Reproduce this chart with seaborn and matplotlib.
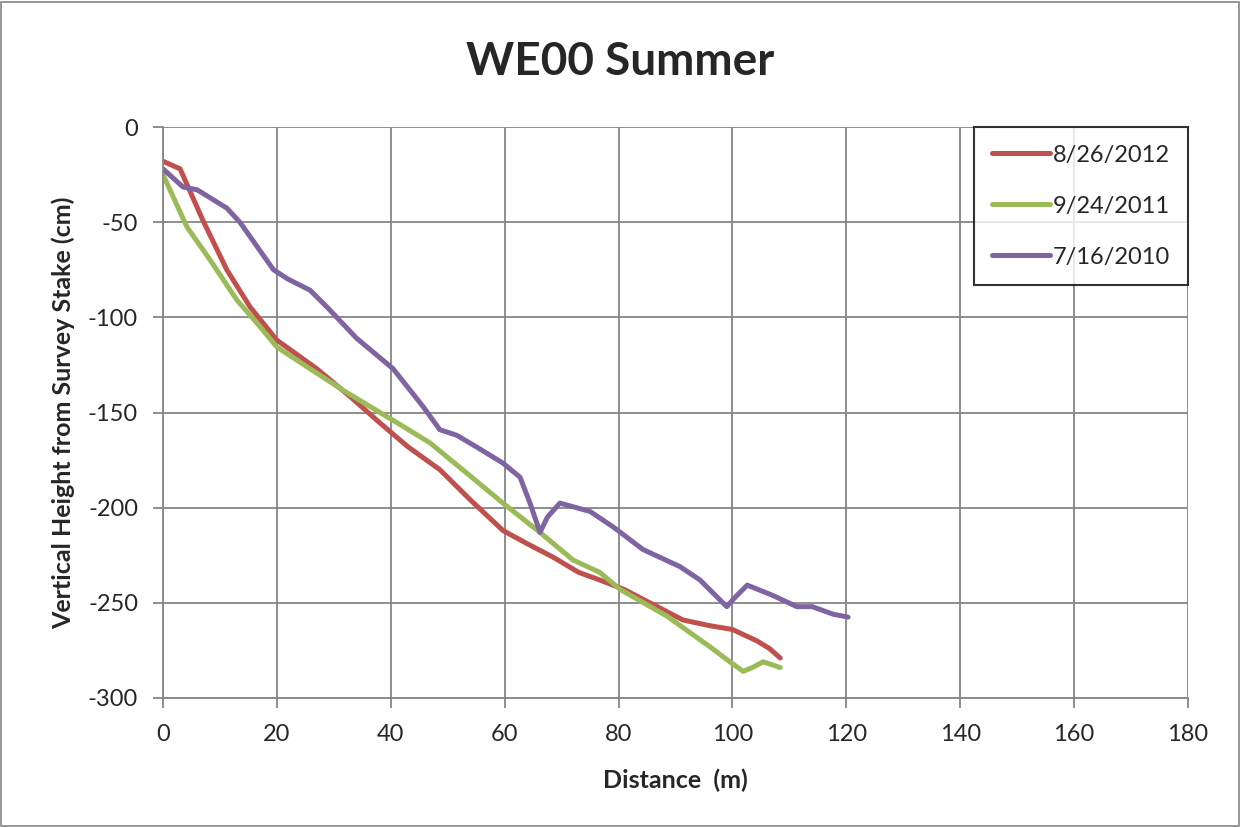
import numpy as np
import pandas as pd
import seaborn as sns
import matplotlib.pyplot as plt
from matplotlib.patches import Rectangle

# data
x_2012 = [0, 3, 7, 11.2, 15.3, 20, 27, 33, 38.1, 43, 48.6, 54, 59.7, 64, 68.5, 73, 76.7,
          81, 85.5, 91.3, 96, 100, 104.3, 106.5, 108.4]
y_2012 = [-18, -22, -49, -75, -94.6, -112, -127, -142, -155.5, -168, -180, -196, -212, -219,
          -226, -234, -238, -243, -250, -259, -262, -264, -270, -274, -279]

x_2011 = [0, 4.2, 8.3, 13, 16.5, 20, 25.8, 32, 38.1, 42, 46.9, 53, 59.7, 66.2, 72, 76.7,
          80.3, 88.5, 96, 100, 101.9, 103.5, 105.4, 108.4]
y_2011 = [-25, -52.5, -70, -91, -103, -115.6, -127, -139, -150, -157, -166, -181, -197.6,
          -213, -227.5, -234, -243, -257, -273, -282, -286, -284, -281, -284]

x_2010 = [0, 3.5, 6, 11.2, 13.5, 19.4, 22, 25.8, 28.8, 34, 40.4, 45.7, 48.6, 51.6, 55,
          59.7, 62.7, 64.5, 66.2, 67.5, 69.7, 75, 79, 84.3, 90.8, 94.3, 99, 100.5, 102.6,
          107, 111.3, 114, 117.7, 120.3]
y_2010 = [-22, -31.5, -33, -42.6, -50, -75, -80, -85.7, -94.6, -111, -127, -147, -159,
          -162, -168, -176.6, -184, -198, -213, -205, -197.6, -202, -210, -222, -231, -238,
          -252, -247, -240.7, -246, -252, -252, -256, -257.5]

labels = ['8/26/2012', '9/24/2011', '7/16/2010']
colors = ['#C0504D', '#9BBB59', '#8064A2']

frames = []
for lab, xs, ys in zip(labels, [x_2012, x_2011, x_2010], [y_2012, y_2011, y_2010]):
    frames.append(pd.DataFrame({'Distance': xs, 'Height': ys, 'Date': lab}))
df = pd.concat(frames, ignore_index=True)

sns.set_style('white')
plt.rcParams['font.family'] = ['Lato', 'DejaVu Sans']
plt.rcParams['axes.unicode_minus'] = False

fig = plt.figure(figsize=(12.41, 8.27), dpi=100)
ax = fig.add_axes([163 / 1241, 1 - 698 / 827, (1188 - 163) / 1241, (698 - 127) / 827])

sns.lineplot(data=df, x='Distance', y='Height', hue='Date', hue_order=labels,
             palette=colors, sort=False, estimator=None, linewidth=3.6, ax=ax)
for ln in ax.get_lines():
    ln.set_solid_joinstyle('round')
    ln.set_solid_capstyle('round')

ax.set_xlim(0, 180)
ax.set_ylim(-300, 0)
ax.set_xticks(np.arange(0, 181, 20))
ax.set_yticks(np.arange(-300, 1, 50))
ax.grid(True, color='#868686', linewidth=1.3)
ax.set_axisbelow(True)
for pos in ['top', 'right']:
    ax.spines[pos].set_visible(False)
for pos in ['left', 'bottom']:
    ax.spines[pos].set_color('#868686')
    ax.spines[pos].set_linewidth(1.3)
ax.tick_params(axis='both', labelsize=17, length=7, width=1.3, color='#868686',
               direction='out', bottom=True, left=True)
ax.tick_params(axis='x', pad=12)
ax.tick_params(axis='y', pad=11)

ax.set_xlabel('Distance  (m)', fontsize=18, fontweight='bold', labelpad=17)
ax.set_ylabel('Vertical Height from Survey Stake (cm)', fontsize=18, fontweight='bold',
              labelpad=9)
fig.text(0.5, 1 - 62 / 827, 'WE00 Summer', fontsize=33, fontweight='bold',
         ha='center', va='center')

leg = ax.legend(loc='upper right', bbox_to_anchor=(1.0, 1.0), fontsize=17,
                frameon=True, fancybox=False, edgecolor='black', handlelength=2.45,
                handletextpad=0.15, labelspacing=1.27, borderpad=0.75, borderaxespad=0)
leg.get_frame().set_linewidth(1.5)
leg.set_title(None)

fig.patches.append(Rectangle((0.001, 0.001), 0.997, 0.997, transform=fig.transFigure,
                             fill=False, edgecolor='#868686', linewidth=1.2))

fig.savefig('out.png', dpi=100)
